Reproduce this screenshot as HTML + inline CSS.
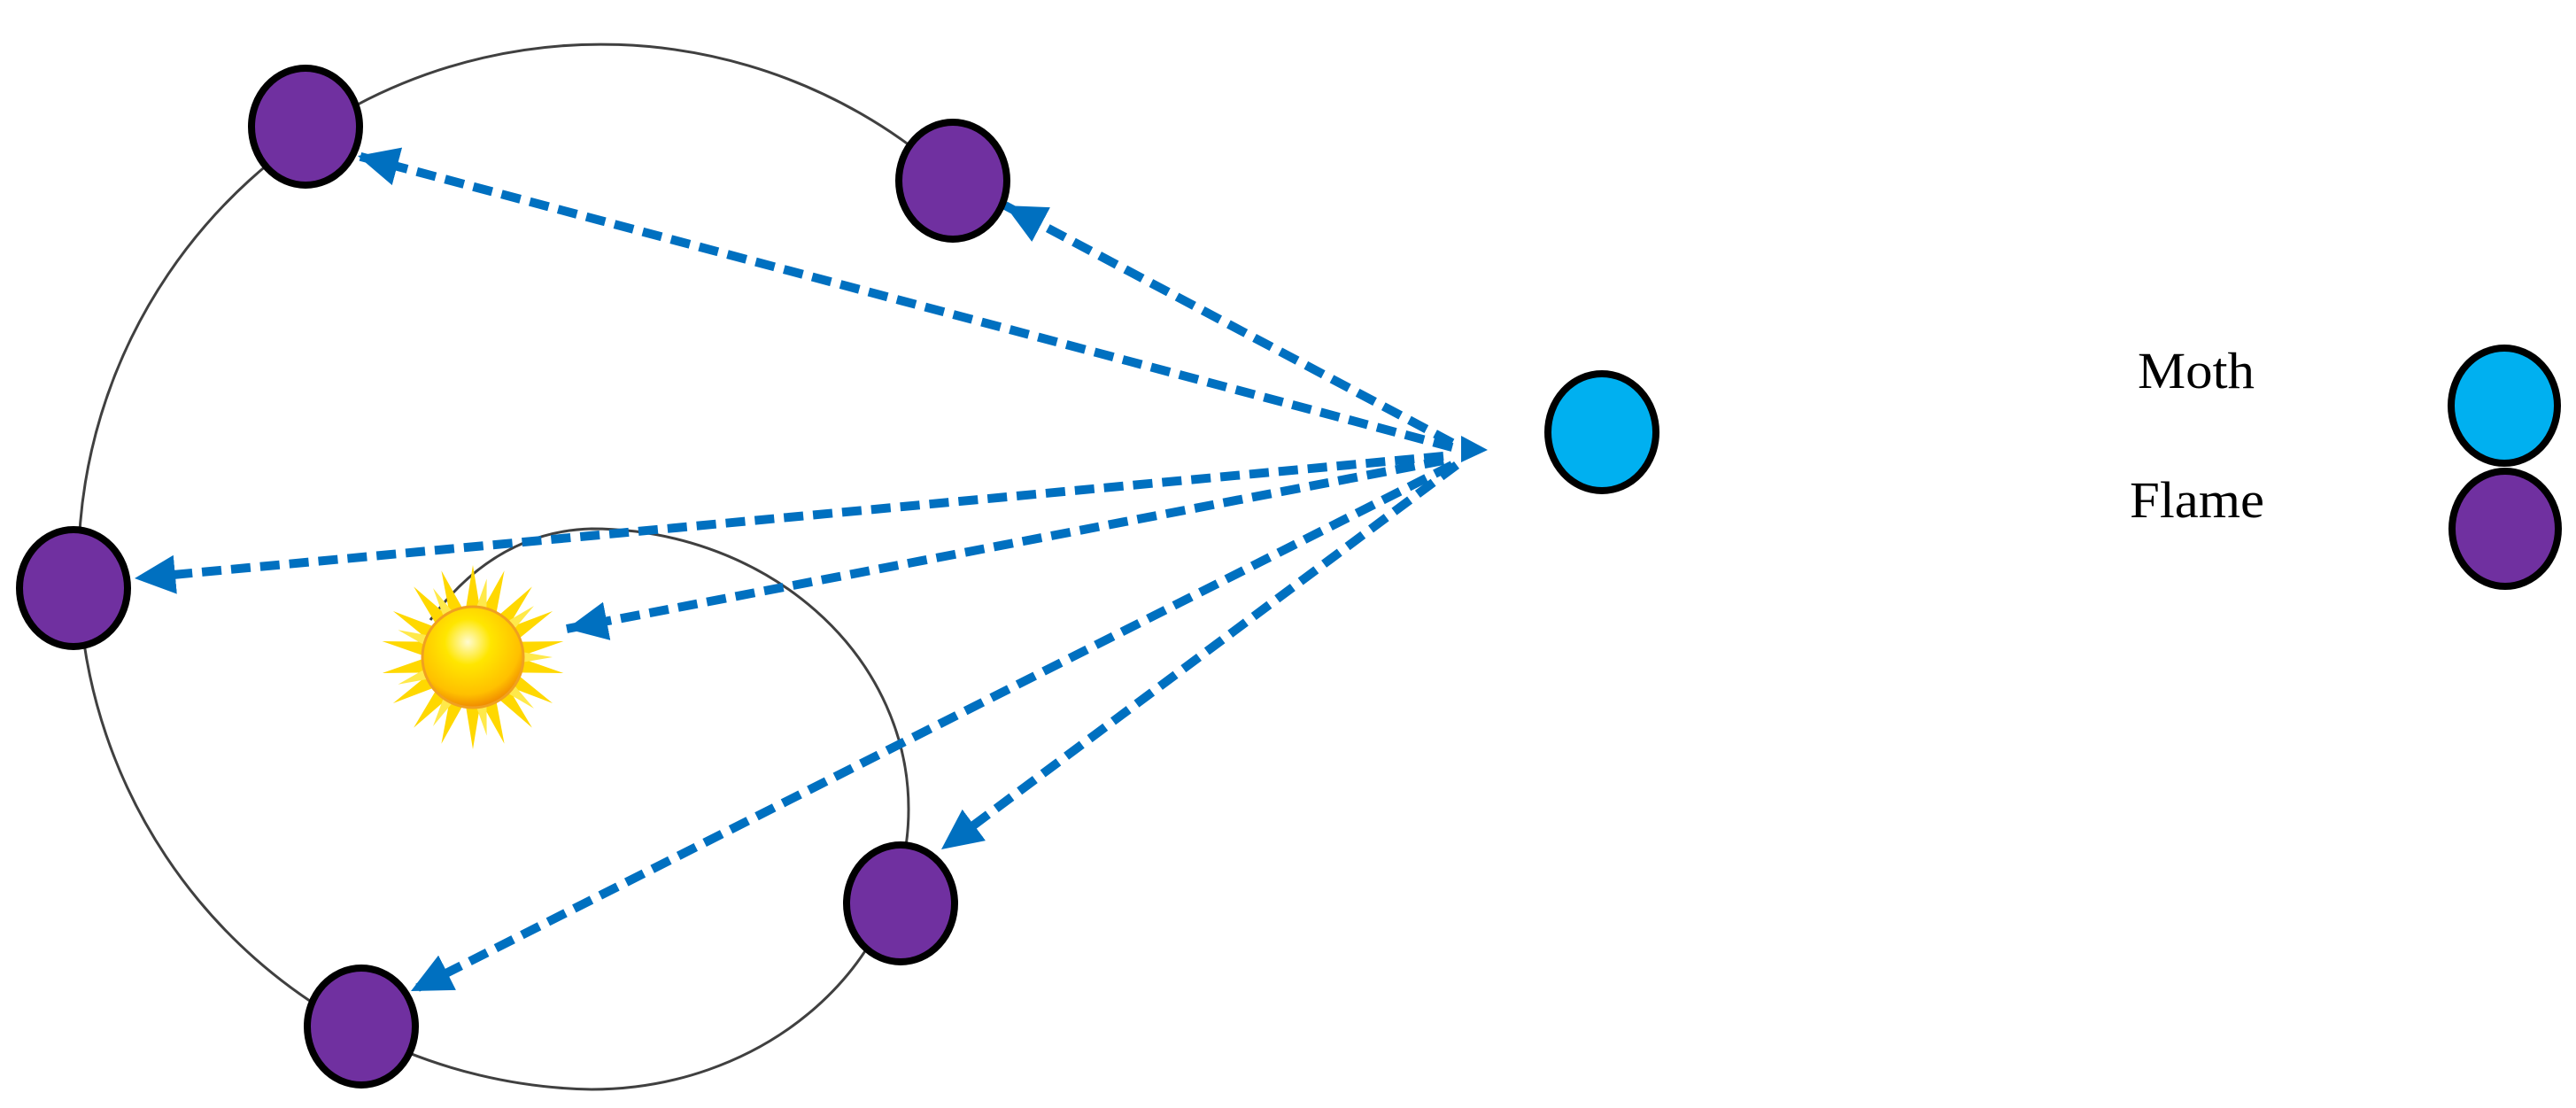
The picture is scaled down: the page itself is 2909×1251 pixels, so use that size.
<!DOCTYPE html>
<html><head><meta charset="utf-8"><style>html,body{margin:0;padding:0;background:#fff}svg{display:block}</style></head>
<body>
<svg width="2909" height="1251" viewBox="0 0 2909 1251" xmlns="http://www.w3.org/2000/svg">
<defs>
<marker id="ah" markerUnits="userSpaceOnUse" markerWidth="50" markerHeight="44" refX="46" refY="22" orient="auto">
<path d="M0,0 L46,22 L0,44 Z" fill="#0070C0"/>
</marker>
<radialGradient id="sg" cx="45%" cy="35%" r="65%">
<stop offset="0" stop-color="#fffbd0"/><stop offset="0.35" stop-color="#ffe600"/><stop offset="0.8" stop-color="#ffc000"/><stop offset="1" stop-color="#f08a00"/>
</radialGradient>
</defs>
<g fill="none" stroke="#404040" stroke-width="3">
<path d="M1076,204 A590,590 0 1 0 668,1230"/>
<path d="M668,1230 A358,316 0 0 0 1026,913 A358,316 0 0 0 668,597 Q560,600 486,700"/>
</g>
<g transform="translate(534,742)">
<g fill="#ffd800">
<polygon points="0,-104 8,-55 -8,-55"/>
<polygon points="0,-104 8,-55 -8,-55" transform="rotate(20)"/>
<polygon points="0,-104 8,-55 -8,-55" transform="rotate(40)"/>
<polygon points="0,-104 8,-55 -8,-55" transform="rotate(60)"/>
<polygon points="0,-104 8,-55 -8,-55" transform="rotate(80)"/>
<polygon points="0,-104 8,-55 -8,-55" transform="rotate(100)"/>
<polygon points="0,-104 8,-55 -8,-55" transform="rotate(120)"/>
<polygon points="0,-104 8,-55 -8,-55" transform="rotate(140)"/>
<polygon points="0,-104 8,-55 -8,-55" transform="rotate(160)"/>
<polygon points="0,-104 8,-55 -8,-55" transform="rotate(180)"/>
<polygon points="0,-104 8,-55 -8,-55" transform="rotate(200)"/>
<polygon points="0,-104 8,-55 -8,-55" transform="rotate(220)"/>
<polygon points="0,-104 8,-55 -8,-55" transform="rotate(240)"/>
<polygon points="0,-104 8,-55 -8,-55" transform="rotate(260)"/>
<polygon points="0,-104 8,-55 -8,-55" transform="rotate(280)"/>
<polygon points="0,-104 8,-55 -8,-55" transform="rotate(300)"/>
<polygon points="0,-104 8,-55 -8,-55" transform="rotate(320)"/>
<polygon points="0,-104 8,-55 -8,-55" transform="rotate(340)"/>
</g>
<g fill="#ffe94a">
<polygon points="0,-90 6,-55 -6,-55" transform="rotate(10)"/>
<polygon points="0,-90 6,-55 -6,-55" transform="rotate(50)"/>
<polygon points="0,-90 6,-55 -6,-55" transform="rotate(90)"/>
<polygon points="0,-90 6,-55 -6,-55" transform="rotate(130)"/>
<polygon points="0,-90 6,-55 -6,-55" transform="rotate(170)"/>
<polygon points="0,-90 6,-55 -6,-55" transform="rotate(210)"/>
<polygon points="0,-90 6,-55 -6,-55" transform="rotate(250)"/>
<polygon points="0,-90 6,-55 -6,-55" transform="rotate(290)"/>
<polygon points="0,-90 6,-55 -6,-55" transform="rotate(330)"/>
</g>
<circle r="57" fill="url(#sg)" stroke="#f0a020" stroke-width="3"/>
</g>
<g stroke="#0070C0" stroke-width="10" stroke-dasharray="22,11" fill="none" marker-end="url(#ah)">
<line x1="1640" y1="505" x2="404" y2="176"/>
<line x1="1640" y1="500" x2="1135" y2="232"/>
<line x1="1630" y1="515" x2="152" y2="653"/>
<line x1="1630" y1="520" x2="640" y2="710"/>
<line x1="1640" y1="525" x2="464" y2="1119"/>
<line x1="1645" y1="525" x2="1063" y2="959"/>
</g>
<path d="M1650,492 L1680,508 L1650,522 Z" fill="#0070C0"/>
<g fill="#7030A0" stroke="#000" stroke-width="8">
<ellipse cx="345" cy="143" rx="61" ry="66"/>
<ellipse cx="1076" cy="204" rx="61" ry="66"/>
<ellipse cx="83" cy="664" rx="61" ry="66"/>
<ellipse cx="1017" cy="1020" rx="61" ry="66"/>
<ellipse cx="408" cy="1159" rx="61" ry="66"/>
<ellipse cx="2829" cy="597" rx="60" ry="65"/>
</g>
<g fill="#00B0F0" stroke="#000" stroke-width="8">
<ellipse cx="1809" cy="488" rx="61" ry="66"/>
<ellipse cx="2828" cy="458" rx="60" ry="65"/>
</g>
<g font-family="Liberation Serif, serif" font-size="58" fill="#000">
<text x="2414" y="438" textLength="132" lengthAdjust="spacingAndGlyphs">Moth</text>
<text x="2405" y="584" textLength="152" lengthAdjust="spacingAndGlyphs">Flame</text>
</g>
</svg>
</body></html>
